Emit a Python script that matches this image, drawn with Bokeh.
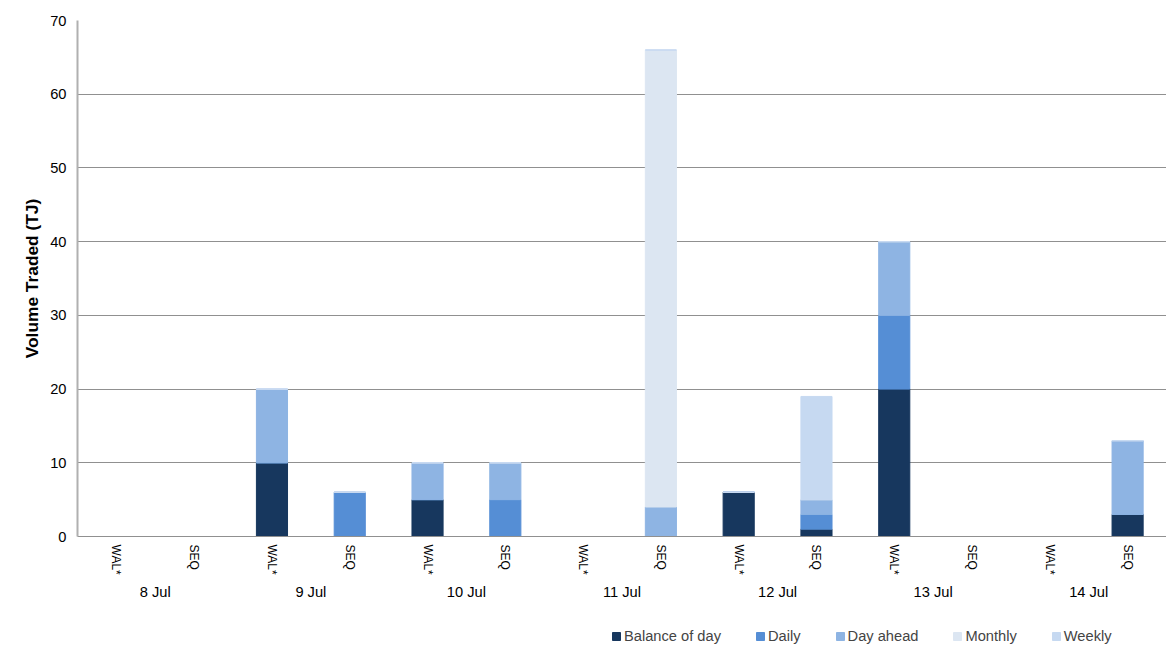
from math import pi
from bokeh.plotting import figure
from bokeh.layouts import column
from bokeh.models import ColumnDataSource, LinearAxis, FixedTicker, Legend, Range1d
from bokeh.embed import file_html
from bokeh.resources import INLINE

days = ['8 Jul', '9 Jul', '10 Jul', '11 Jul', '12 Jul', '13 Jul', '14 Jul']
regions = ['WAL*', 'SEQ'] * 7
series = ['Balance of day', 'Daily', 'Day ahead', 'Monthly', 'Weekly']
balance_of_day = [0, 0, 10, 0, 5, 0, 0, 0, 6, 1, 20, 0, 0, 3]
daily = [0, 0, 0, 6, 0, 5, 0, 0, 0, 2, 10, 0, 0, 0]
day_ahead = [0, 0, 10, 0, 5, 5, 0, 4, 0, 2, 10, 0, 0, 10]
monthly = [0, 0, 0, 0, 0, 0, 0, 62, 0, 0, 0, 0, 0, 0]
weekly = [0, 0, 0, 0, 0, 0, 0, 0, 0, 14, 0, 0, 0, 0]
colors = ['#17375e', '#558ed5', '#8eb4e3', '#dce6f2', '#c6d9f1']

xs = [i + 0.5 for i in range(len(regions))]
src = ColumnDataSource(dict(x=xs, **{
    'Balance of day': balance_of_day, 'Daily': daily, 'Day ahead': day_ahead,
    'Monthly': monthly, 'Weekly': weekly}))

p = figure(width=1166, height=620, output_backend="svg", toolbar_location=None,
           x_range=Range1d(0, 14), y_range=Range1d(0, 70),
           min_border_right=0, min_border_top=20, min_border_bottom=84,
           min_border_left=77)
p.vbar_stack(series, x='x', width=0.4, color=colors, source=src)

p.outline_line_color = None
p.xgrid.grid_line_color = None
p.ygrid.grid_line_color = '#909090'
p.yaxis.ticker = FixedTicker(ticks=list(range(0, 71, 10)))
p.yaxis.axis_label = 'Volume Traded (TJ)'
p.yaxis.axis_label_text_font = 'Liberation Sans'
p.yaxis.axis_label_text_font_style = 'bold'
p.yaxis.axis_label_text_font_size = '13pt'
p.yaxis.axis_label_text_color = '#000000'
p.yaxis.axis_line_color = '#b0b0b0'
p.yaxis.axis_line_width = 2
p.yaxis.major_tick_line_color = None
p.yaxis.minor_tick_line_color = None

ax = p.xaxis[0]
ax.ticker = FixedTicker(ticks=xs)
ax.major_label_overrides = {x: r for x, r in zip(xs, regions)}
ax.major_label_orientation = -pi / 2
ax.major_label_standoff = 8
ax.axis_line_color = '#909090'
ax.major_tick_line_color = None
ax.minor_tick_line_color = None
ax.major_tick_out = 0

dax = LinearAxis(ticker=FixedTicker(ticks=[2 * i + 1 for i in range(7)]),
                 major_label_overrides={2 * i + 1: d for i, d in enumerate(days)},
                 axis_line_color=None, major_tick_line_color=None,
                 minor_tick_line_color=None, major_tick_out=0,
                 major_label_standoff=6)
p.add_layout(dax, 'below')

for a in [p.yaxis[0], ax, dax]:
    a.major_label_text_font = 'Liberation Sans'
    a.major_label_text_font_size = '11pt'
    a.major_label_text_color = '#000000'
ax.major_label_text_font_size = '9pt'

# legend in its own strip under the chart
lg = figure(width=1166, height=24, output_backend="svg", toolbar_location=None,
            x_range=Range1d(0, 1), y_range=Range1d(0, 1), min_border=0,
            outline_line_color=None)
lg.axis.visible = False
lg.grid.visible = False
proxy = ColumnDataSource(dict(x=[-5], **{s: [0] for s in series}))
lrs = lg.vbar_stack(series, x='x', width=0.4, color=colors, source=proxy)
legend = Legend(items=[(s, [r]) for s, r in zip(series, lrs)],
                orientation='horizontal', location=(534, 0),
                border_line_color=None, background_fill_alpha=0,
                label_text_font='Liberation Sans', label_text_font_size='11pt',
                glyph_width=10, glyph_height=10, spacing=34, padding=0,
                margin=0, label_standoff=3, label_height=14)
lg.add_layout(legend)

open("out.html", "w").write(file_html(column(p, lg, spacing=0), INLINE))
